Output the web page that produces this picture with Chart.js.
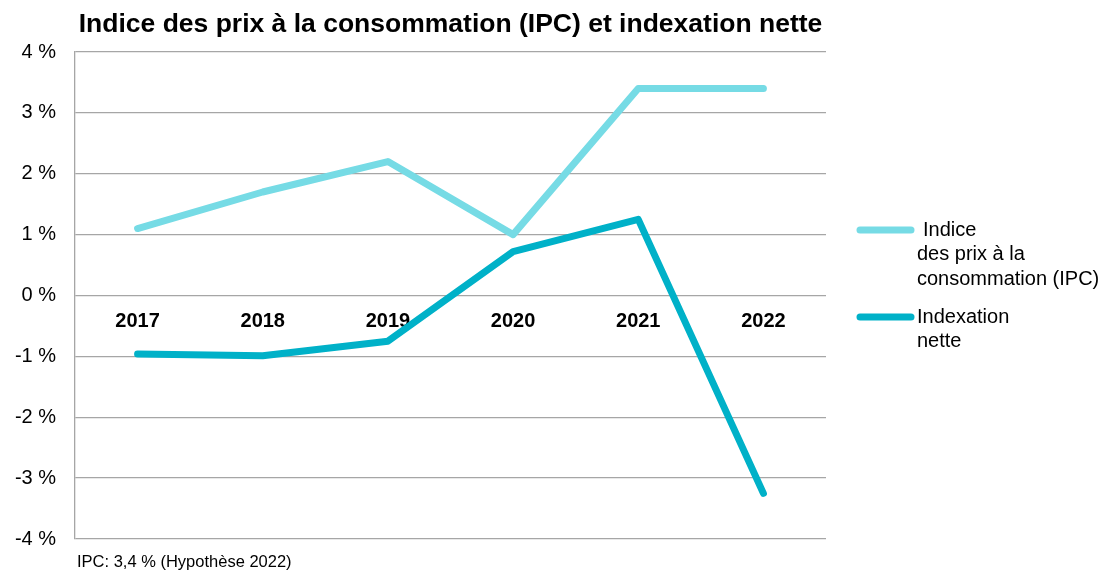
<!DOCTYPE html>
<html>
<head>
<meta charset="utf-8">
<script src="https://cdn.jsdelivr.net/npm/chart.js@4"></script>
<style>
  html, body { margin: 0; padding: 0; background: #fff; }
  #wrap { width: 1114px; height: 570px; position: relative; }
</style>
</head>
<body>
<div id="wrap"><canvas id="chart"></canvas></div>
<script>
const years = ["2017", "2018", "2019", "2020", "2021", "2022"];
const ipcValues = [1.1, 1.7, 2.2, 1.0, 3.4, 3.4];
const netValues = [-0.96, -0.99, -0.75, 0.72, 1.25, -3.25];
const seriesNames = [["Indice", "des prix à la", "consommation (IPC)"], ["Indexation", "nette"]];
const seriesColors = ["#76dbe5", "#00b1c8"];

const FONT = "'Liberation Sans', Arial, sans-serif";
const gridColor = "#a6a6a6";

// titre, légende et note dessinés à la main
const extras = {
  id: "extras",
  afterDraw(chart) {
    const ctx = chart.ctx;
    const area = chart.chartArea;
    ctx.save();
    ctx.fillStyle = "#000";
    ctx.font = "bold 26.5px " + FONT;
    ctx.textAlign = "center";
    ctx.textBaseline = "alphabetic";
    ctx.fillText("Indice des prix à la consommation (IPC) et indexation nette", (area.left + area.right) / 2, 32);

    ctx.font = "16.5px " + FONT;
    ctx.textAlign = "left";
    ctx.fillText("IPC: 3,4 % (Hypothèse 2022)", 77, 567);

    const legendY = [230, 317];
    ctx.font = "20px " + FONT;
    ctx.textBaseline = "middle";
    seriesNames.forEach((lines, i) => {
      const y = legendY[i];
      ctx.strokeStyle = seriesColors[i];
      ctx.lineWidth = 7;
      ctx.lineCap = "round";
      ctx.beginPath();
      ctx.moveTo(860, y);
      ctx.lineTo(911, y);
      ctx.stroke();
      lines.forEach((t, j) => {
        const x = (i === 0 && j === 0) ? 923 : 917;
        ctx.fillText(t, x, y + j * 24.5);
      });
    });
    ctx.restore();
  }
};

new Chart(document.getElementById("chart"), {
  type: "line",
  data: {
    labels: years,
    datasets: [
      { label: "Indice des prix à la consommation (IPC)", data: ipcValues, borderColor: seriesColors[0] },
      { label: "Indexation nette", data: netValues, borderColor: seriesColors[1] }
    ]
  },
  options: {
    responsive: true,
    maintainAspectRatio: false,
    animation: false,
    layout: { padding: { top: 52, right: 288, bottom: 28, left: 0 } },
    elements: {
      line: { borderWidth: 7, tension: 0, borderCapStyle: "round", borderJoinStyle: "round" },
      point: { radius: 0 }
    },
    plugins: {
      legend: { display: false },
      title: { display: false },
      tooltip: { enabled: false }
    },
    scales: {
      x: {
        position: { y: 0 },
        offset: true,
        grid: { display: false, drawTicks: false },
        border: { display: false },
        ticks: { color: "#000", padding: 14, font: { family: FONT, size: 20, weight: "bold" } }
      },
      y: {
        min: -4,
        max: 4,
        afterFit(scale) { scale.width = 75; },
        grid: { color: gridColor, lineWidth: 1.3, drawTicks: false },
        border: { color: gridColor, width: 1.3 },
        ticks: {
          stepSize: 1,
          padding: 19,
          color: "#000",
          font: { family: FONT, size: 20 },
          callback: v => v + " %"
        }
      }
    }
  },
  plugins: [extras]
});
</script>
</body>
</html>
